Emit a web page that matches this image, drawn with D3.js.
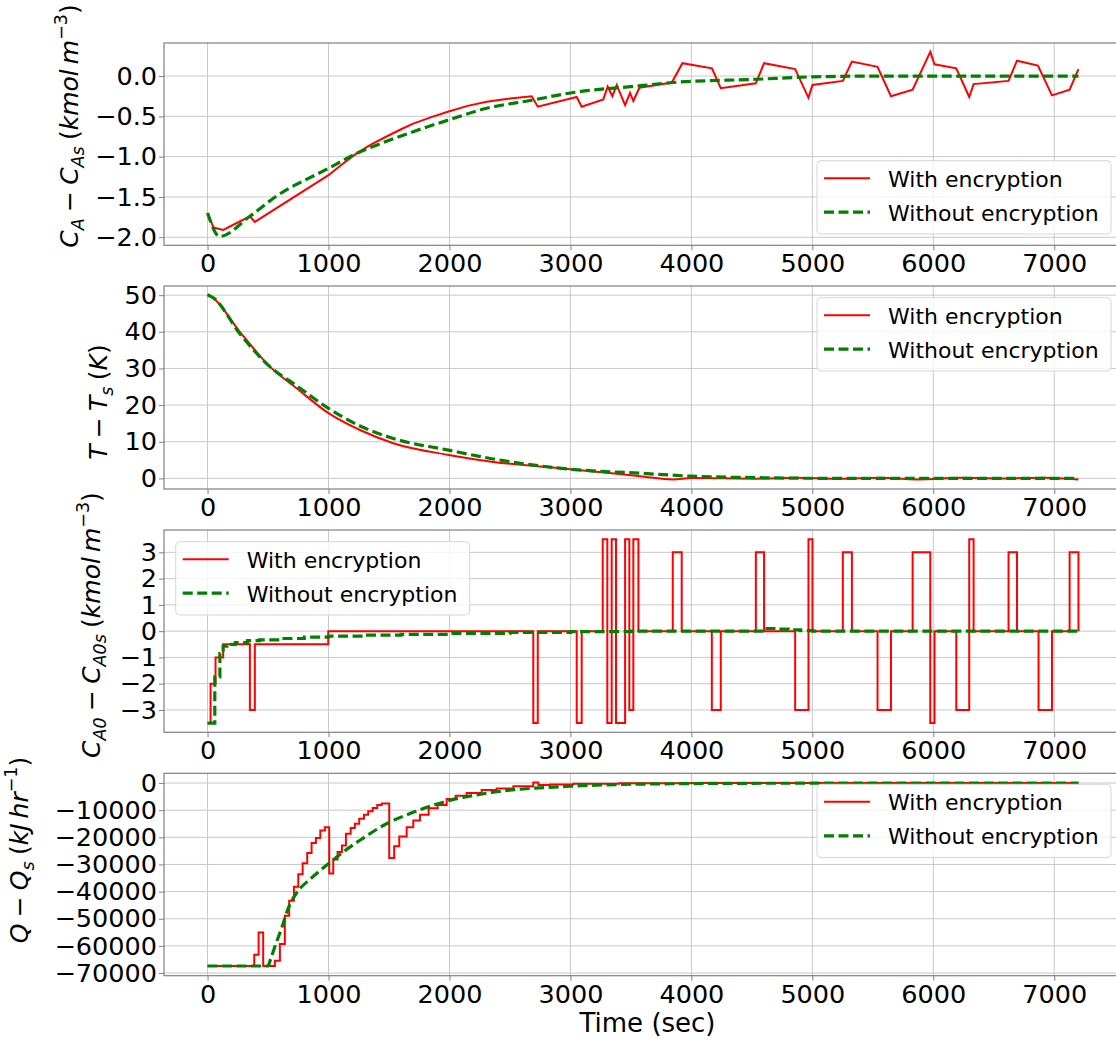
<!DOCTYPE html>
<html>
<head>
<meta charset="utf-8">
<script src="https://cdn.jsdelivr.net/npm/d3@7"></script>
<style>
  body { margin: 0; background: #fff; }
  svg { display: block; font-family: 'DejaVu Sans', sans-serif; }
</style>
</head>
<body>
<div id="chart"></div>
<script>
// ---- data ----
const seriesNames = ['With encryption', 'Without encryption'];
const xTicks = [0, 1000, 2000, 3000, 4000, 5000, 6000, 7000];

// C_A - C_As
const caTimeEnc = [0, 50, 130, 350, 391, 1000, 1100, 1232, 1350, 1480, 1600, 1700, 1850, 1993, 2150, 2307, 2500, 2680, 2730, 3052, 3093, 3272, 3308, 3347, 3383, 3452, 3493, 3520, 3570, 3838, 3926, 4170, 4243, 4533, 4601, 4858, 4968, 5001, 5252, 5327, 5539, 5650, 5829, 5975, 6010, 6190, 6297, 6333, 6622, 6692, 6865, 6981, 7127, 7200];
const caEnc = [-1.70, -1.88, -1.91, -1.74, -1.81, -1.23, -1.11, -0.96, -0.85, -0.75, -0.66, -0.59, -0.51, -0.44, -0.37, -0.32, -0.28, -0.25, -0.38, -0.26, -0.38, -0.29, -0.13, -0.25, -0.11, -0.36, -0.21, -0.31, -0.145, -0.08, 0.16, 0.095, -0.15, -0.09, 0.16, 0.087, -0.27, -0.11, -0.06, 0.18, 0.115, -0.25, -0.17, 0.30, 0.145, 0.095, -0.26, -0.10, -0.06, 0.19, 0.13, -0.24, -0.17, 0.085];
const caTimeNo = [0, 100, 350, 570, 1000, 1232, 1480, 1700, 1993, 2307, 2680, 3000, 3577, 3850, 4540, 5000, 5500, 7200];
const caNo = [-1.70, -1.99, -1.74, -1.49, -1.145, -0.96, -0.81, -0.69, -0.545, -0.40, -0.30, -0.21, -0.12, -0.08, -0.04, -0.01, 0, 0];
const caTicks = [0, -0.5, -1.0, -1.5, -2.0];

// T - T_s
const tTimeEnc = [0, 47, 267, 515, 736, 1000, 1260, 1535, 1993, 2362, 3000, 3577, 3850, 4000, 4540, 4860, 5220, 5560, 5870, 6230, 6560, 6920, 7200];
const tEnc = [50.1, 49.2, 40, 30.5, 24.6, 17.8, 13.2, 9.6, 6.4, 4.5, 2.5, 0.6, -0.3, 0.1, -0.1, 0.2, -0.1, 0.2, -0.3, 0.2, -0.05, 0.2, -0.3];
const tTimeNo = [0, 47, 267, 515, 736, 1000, 1260, 1535, 1993, 2362, 3000, 3577, 4000, 4540, 4860, 5500, 7200];
const tNo = [50.1, 49.3, 39.5, 30.5, 25.3, 19.1, 14.3, 10.9, 7.7, 5.3, 2.5, 1.4, 0.6, 0.2, 0.05, 0, 0];
const tTicks = [0, 10, 20, 30, 40, 50];

// C_A0 - C_A0s (step signal)
const ca0TimeEnc = [0, 25, 66, 129, 350, 391, 998, 2693, 2730, 3052, 3093, 3267, 3305, 3341, 3377, 3452, 3487, 3520, 3562, 3846, 3920, 4169, 4243, 4533, 4601, 4858, 4968, 5001, 5252, 5327, 5539, 5650, 5829, 5975, 6010, 6190, 6297, 6333, 6622, 6692, 6870, 6981, 7127, 7200];
const ca0Enc = [-3.5, -2, -1, -0.5, -3, -0.5, 0, -3.5, 0, -3.5, 0, 3.5, -3.5, 3.5, -3.5, 3.5, -3, 3.5, 0, 3, 0, -3, 0, 3, 0, -3, 3.5, 0, 3, 0, -3, 0, 3, -3.5, 0, -3, 3.5, 0, 3, 0, -3, 0, 3, 0];
const ca0TimeNo = [0, 60, 102, 129, 160, 230, 330, 430, 600, 800, 1000, 1300, 1600, 2000, 2500, 3000, 3500, 4600, 4700, 4800, 4900, 5000, 7200];
const ca0No = [-3.5, -1.74, -0.85, -0.57, -0.5, -0.44, -0.36, -0.33, -0.28, -0.23, -0.19, -0.15, -0.12, -0.09, -0.05, -0.02, 0, 0.1, 0.08, 0.05, 0.02, 0, 0];
const ca0Ticks = [3, 2, 1, 0, -1, -2, -3];

// Q - Q_s (step signal)
const qTimeEnc = [0, 386, 422, 460, 557, 598, 639, 675, 714, 750, 786, 824, 860, 896, 932, 970, 1006, 1039, 1075, 1111, 1144, 1183, 1218, 1254, 1293, 1328, 1365, 1403, 1440, 1502, 1543, 1585, 1646, 1701, 1756, 1828, 1902, 1977, 2051, 2142, 2266, 2390, 2528, 2693, 2735, 2831, 3024, 3400, 4000, 7200];
const qEnc = [-67400, -63300, -55100, -67400, -65500, -59300, -48900, -43400, -38200, -33600, -29600, -25800, -22100, -20300, -17500, -16300, -33300, -28200, -25400, -23000, -18700, -16600, -15000, -13200, -11700, -10400, -9200, -8100, -7500, -27600, -23300, -19700, -16300, -13800, -11700, -9300, -8100, -5900, -4700, -3700, -2600, -2000, -1200, 200, -700, -500, -300, -100, 0, 0];
const qTimeNo = [0, 500, 515, 557, 612, 667, 736, 846, 1000, 1122, 1260, 1480, 1700, 1993, 2362, 3000, 3577, 4500, 7200];
const qNo = [-67400, -67400, -65700, -60200, -53500, -46200, -40500, -35500, -29700, -25400, -21100, -15000, -10800, -6500, -3400, -1200, -400, -100, 0];
const qTicks = [0, -10000, -20000, -30000, -40000, -50000, -60000, -70000];

document.addEventListener('DOMContentLoaded', () => draw());

function draw() {
    const width = 1116
    const height = 1041
    const tickFont = 25.5
    const labelFont = 25
    const legendFont = 22
    const red = '#ff0000'
    const green = '#008000'
    const spineColour = '#808080'
    const gridColour = '#c8c8c8'
    const opSpace = '\u2005'   // math-style spacing around the minus sign
    const thin = '\u2009'

    const svg = d3.select('#chart')
        .append('svg')
        .attr('width', width)
        .attr('height', height)
        .attr('viewBox', [0, 0, width, height]);

    // shared time axis; the right spine falls just outside the picture
    const x = d3.scaleLinear()
        .domain([-360, 7560])
        .range([164, 1122]);

    const minus = [opSpace + '−' + opSpace, '']
    const panels = [
        {
            top: 43, bottom: 245.3, yDomain: [-2.1, 0.41], yTicks: caTicks, fmt: d3.format('.1f'),
            enc: d3.zip(caTimeEnc, caEnc), no: d3.zip(caTimeNo, caNo),
            encCurve: d3.curveLinear, noCurve: d3.curveMonotoneX,
            legend: { x: 817, y: 160.7 },
            label: { x: 78, y: 126, parts: [['C', 'i'], ['A', 'sub'], minus, ['C', 'i'], ['As', 'sub'], [opSpace + '(', ''], ['kmol', 'i'], [thin, ''], ['m', 'i'], ['−3', 'sup'], [')', '']] }
        },
        {
            top: 286, bottom: 489, yDomain: [-2.9, 52.5], yTicks: tTicks, fmt: d3.format('d'),
            enc: d3.zip(tTimeEnc, tEnc), no: d3.zip(tTimeNo, tNo),
            encCurve: d3.curveMonotoneX, noCurve: d3.curveMonotoneX,
            legend: { x: 817, y: 297.7 },
            label: { x: 107, y: 402, parts: [['T', 'i'], minus, ['T', 'i'], ['s', 'sub'], [opSpace + '(', ''], ['K', 'i'], [')', '']] }
        },
        {
            top: 530, bottom: 732.3, yDomain: [-3.85, 3.85], yTicks: ca0Ticks, fmt: d3.format('d'),
            enc: d3.zip(ca0TimeEnc, ca0Enc), no: d3.zip(ca0TimeNo, ca0No),
            encCurve: d3.curveStepAfter, noCurve: d3.curveStepAfter,
            legend: { x: 175.7, y: 541.7 },
            label: { x: 100, y: 625, parts: [['C', 'i'], ['A0', 'sub'], minus, ['C', 'i'], ['A0s', 'sub'], [opSpace + '(', ''], ['kmol', 'i'], [thin, ''], ['m', 'i'], ['−3', 'sup'], [')', '']] }
        },
        {
            top: 773.3, bottom: 975.7, yDomain: [-70980, 3580], yTicks: qTicks, fmt: d3.format('d'),
            enc: d3.zip(qTimeEnc, qEnc), no: d3.zip(qTimeNo, qNo),
            encCurve: d3.curveStepAfter, noCurve: d3.curveMonotoneX,
            legend: { x: 817, y: 784.3 },
            label: { x: 28, y: 850, parts: [['Q', 'i'], minus, ['Q', 'i'], ['s', 'sub'], [opSpace + '(', ''], ['kJ', 'i'], [thin, ''], ['hr', 'i'], ['−1', 'sup'], [')', '']] }
        }
    ];

    panels.forEach(p => {
        const y = d3.scaleLinear().domain(p.yDomain).range([p.bottom, p.top]);
        const g = svg.append('g');

        // grid
        g.append('g').selectAll('line')
            .data(xTicks)
            .join('line')
            .attr('x1', d => x(d)).attr('x2', d => x(d))
            .attr('y1', p.top).attr('y2', p.bottom)
            .attr('stroke', gridColour).attr('stroke-width', 1);
        g.append('g').selectAll('line')
            .data(p.yTicks)
            .join('line')
            .attr('x1', x.range()[0]).attr('x2', x.range()[1])
            .attr('y1', d => y(d)).attr('y2', d => y(d))
            .attr('stroke', gridColour).attr('stroke-width', 1);

        // axes
        const xAxis = g.append('g')
            .attr('transform', `translate(0, ${p.bottom})`)
            .call(d3.axisBottom(x).tickValues(xTicks).tickSize(5).tickPadding(4).tickFormat(d3.format('d')));
        const yAxis = g.append('g')
            .attr('transform', `translate(${x.range()[0]}, 0)`)
            .call(d3.axisLeft(y).tickValues(p.yTicks).tickSize(5).tickPadding(2).tickFormat(p.fmt));
        [xAxis, yAxis].forEach(a => {
            a.select('.domain').remove();
            a.attr('font-family', null).attr('font-size', null);
            a.selectAll('line').attr('stroke', spineColour);
            a.selectAll('text').attr('fill', '#000').style('font-size', tickFont + 'px');
        });

        // series
        const clipId = `clip-${p.top}`;
        g.append('clipPath').attr('id', clipId)
            .append('rect')
            .attr('x', x.range()[0]).attr('y', p.top)
            .attr('width', x.range()[1] - x.range()[0]).attr('height', p.bottom - p.top);
        const plot = g.append('g').attr('clip-path', `url(#${clipId})`);
        plot.append('path')
            .attr('d', d3.line().x(d => x(d[0])).y(d => y(d[1])).curve(p.encCurve)(p.enc))
            .attr('fill', 'none').attr('stroke', red).attr('stroke-width', 2);
        plot.append('path')
            .attr('d', d3.line().x(d => x(d[0])).y(d => y(d[1])).curve(p.noCurve)(p.no))
            .attr('fill', 'none').attr('stroke', green).attr('stroke-width', 3.2)
            .attr('stroke-dasharray', '10,4.5');

        // spines
        g.append('rect')
            .attr('x', x.range()[0]).attr('y', p.top)
            .attr('width', x.range()[1] - x.range()[0]).attr('height', p.bottom - p.top)
            .attr('fill', 'none').attr('stroke', spineColour).attr('stroke-width', 1.2);

        // legend
        const lg = g.append('g').attr('transform', `translate(${p.legend.x}, ${p.legend.y})`);
        lg.append('rect')
            .attr('width', 294).attr('height', 73.3).attr('rx', 4)
            .attr('fill', '#fff').attr('fill-opacity', 0.8)
            .attr('stroke', '#d6d6d6').attr('stroke-width', 1);
        const rows = lg.selectAll('g.row')
            .data(seriesNames)
            .join('g')
            .attr('class', 'row')
            .attr('transform', (d, i) => `translate(0, ${17.5 + i * 34})`);
        rows.append('line')
            .attr('x1', 7).attr('x2', 53)
            .attr('stroke', (d, i) => i === 0 ? red : green)
            .attr('stroke-width', (d, i) => i === 0 ? 2 : 3.2)
            .attr('stroke-dasharray', (d, i) => i === 0 ? null : '10,4.5');
        rows.append('text')
            .attr('x', 71).attr('y', 8.5)
            .attr('fill', '#000')
            .style('font-size', legendFont + 'px')
            .text(d => d);

        // y label with math-style parts, centred where the reference has it
        const label = g.append('text')
            .attr('transform', `translate(${p.label.x}, ${p.label.y}) rotate(-90)`)
            .attr('text-anchor', 'middle')
            .attr('fill', '#000')
            .style('font-size', labelFont + 'px');
        let shift = 0;
        p.label.parts.forEach(([txt, kind]) => {
            const target = kind === 'sub' ? 6 : kind === 'sup' ? -11 : 0;
            label.append('tspan')
                .attr('dy', target - shift)
                .style('font-style', kind === 'i' || kind === 'sub' ? 'italic' : 'normal')
                .style('font-size', kind === 'sub' || kind === 'sup' ? (labelFont * 0.7) + 'px' : null)
                .text(txt);
            shift = target;
        });
    });

    // shared x label
    svg.append('text')
        .attr('x', 647.5)
        .attr('y', 1032)
        .attr('text-anchor', 'middle')
        .attr('fill', '#000')
        .style('font-size', '26px')
        .text('Time (sec)');
}
</script>
</body>
</html>
